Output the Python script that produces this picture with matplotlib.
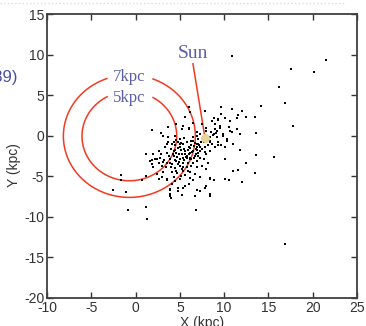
import numpy as np
import matplotlib.pyplot as plt
import matplotlib.lines as mlines

plt.rcParams['axes.unicode_minus'] = False

# star positions (kpc)
x_stars = [6.0, 9.7, 10.9, 12.0, 14.2, 16.9, 17.8, 8.8, 9.3, 10.1, 11.5, 13.5,
           5.3, 3.7, 2.9, 1.8, 6.0, 6.9, 8.0, 9.0, 9.5, 10.5, 10.9, 11.4, 11.8,
           13.6, 8.8, 9.2, 9.9, 10.3,
           3.5, 4.3, 5.0, 5.8, 6.5, 6.9, 7.3, 8.4, 9.3, 10.1, 11.0, 11.8, 13.6,
           15.6, 12.5, 11.0, 11.6, 13.5, 12.0, 10.1, 8.4, 8.0, 8.4, 6.9, 5.6,
           5.2, 3.9, 4.1, 3.5, 2.6, 1.2, 0.7, 1.8, 1.2, 2.0, 2.4, 1.8, 3.1,
           -1.6, -1.7, -2.6, -1.1, -0.9, 1.2, 1.25, 6.8, 4.8, 3.9, 4.0,
           3.7, 4.1, 3.3, 4.5, 4.8, 5.0, 5.4, 5.8, 6.0, 6.3, 6.5, 6.1, 5.6, 5.2,
           4.6, 4.3, 3.9, 3.5, 4.1, 4.6, 5.0, 5.4, 5.8, 6.1, 6.7, 6.9, 7.3, 7.1,
           7.5, 7.8, 8.2, 8.6, 8.4, 8.0, 7.7, 8.2, 9.0, 9.3, 9.7,
           8.0, 7.5, 6.9, 6.3, 5.8, 5.2, 4.6, 4.1, 4.3, 5.0,
           5.6, 6.1, 6.7, 7.3, 6.5, 6.0, 5.4, 4.8, 3.9, 3.5, 3.1, 3.0, 2.8, 2.6,
           2.2, 1.6, 2.0, 2.4, 3.0, 6.5, 6.9, 7.3, 8.8, 9.2, 9.5, 9.0, 8.6, 9.3,
           9.9, 10.3, 10.7, 8.4, 7.8, 8.4, 8.8, 10.5, 6.0, 5.2, 6.5,
           7.5, 4.5, 3.7, 3.1, 4.6, 5.6, 6.1, 7.8, 9.7, 10.7, 11.6, 12.5, 8.4,
           7.7, 7.1, 5.8, 4.8, 5.4, 6.9, 6.3, 4.3, 5.0, 10.1, 7.3,
           6.7, 3.9,
           4.0, 4.4, 4.8, 5.1, 5.5, 5.9, 6.2, 6.6, 6.9, 7.2, 4.2, 4.7, 5.3, 5.6,
           6.0, 6.4, 6.8, 7.0, 4.4, 4.9, 5.5, 5.9, 6.5, 3.8, 3.6, 4.0, 4.5, 5.0,
           5.3, 5.9, 3.4, 3.2, 2.9, 6.3, 6.7, 7.0, 7.4, 7.7, 8.1, 8.4, 8.7, 9.1,
           8.0, 8.5, 5.5, 5.1, 4.6, 6.8, 7.3, 7.8, 5.7, 6.2, 4.9, 6.6, 3.9, 4.7,
           5.1, 6.2, 4.4, 2.7,
           10.9, 17.6, 20.2, 21.5, 16.2, 16.9]
y_stars = [3.6, 3.6, 3.3, 3.1, 3.7, 4.0, 1.2, 2.2, 2.05, 2.2, 2.2, 2.25,
           1.2, 1.1, 0.3, 0.7, 0.8, 0.4, 0.6, 0.8, 1.2, 1.1, 0.4, 0.8, 0.2,
           0.3, 0.2, -0.2, 0.0, -0.6,
           -1.0, -0.8, -1.0, -0.8, -0.6, -1.0, -1.4, -0.8, -1.2, -1.4, -1.0,
           -1.8, -2.4, -2.6, -3.4, -4.4, -4.2, -4.6, -5.7, -5.3, -5.2, -6.2,
           -7.4, -6.7, -6.2, -7.3, -6.7, -5.9, -5.3, -5.3, -5.0, -5.5, -3.5,
           -2.3, -2.2, -2.9, -3.0, -3.2, -4.8, -5.5, -6.7, -6.9, -9.2, -8.8,
           -10.3, -9.2, -6.4, -7.2, -7.7,
           -0.8, -1.0, -1.4, -1.2, -0.8, -1.4, -1.0, -0.8, -1.4, -1.2, -1.9,
           -2.1, -1.9, -2.3, -2.1, -2.5, -2.9, -3.3, -3.5, -3.1, -2.9, -3.3,
           -2.7, -2.9, -2.5, -3.1, -2.7, -2.1, -1.6, -1.4, -1.2, -1.0, -1.9,
           -2.3, -2.9, -3.3, -1.4, -0.8, -1.2,
           -4.1, -3.7, -3.9, -3.7, -3.9, -4.1, -4.3, -4.5, -5.1,
           -5.3, -4.9, -4.5, -4.7, -5.1, -5.5, -6.0, -6.4, -6.8, -6.6, -5.5,
           -4.5, -3.7, -2.7, -1.9, -2.9, -3.1, -3.9, -4.7, -5.1, -0.2, 0.0, 0.2,
           0.2, 0.6, 1.0, 1.4, 1.8, 2.0, 0.2, -0.4, 0.6, -5.3, -6.4,
           -7.2, -5.5, -5.5, 1.0, 0.8, 1.6, 1.4, 0.0, -0.2, 0.0, 1.4, 2.3, 2.9,
           3.1, 2.7, 1.8, 2.5, 2.3, -0.6, -0.8, -1.0, -2.5, -3.5, -3.9, -1.4,
           -2.9, -1.9, -0.4, -2.9, -6.8, -7.4, -7.4,
           -1.6, -1.8, -1.5, -1.8, -1.6, -1.7, -1.5, -1.3, -1.8, -1.2, -2.2,
           -2.6, -2.8, -2.2, -2.3, -2.0, -2.2, -2.5, -3.0, -3.2, -3.0, -3.3,
           -3.4, -2.5, -2.1, -3.8, -4.0, -3.7, -4.4, -4.4, -3.8, -3.0, -2.3,
           -0.6, -0.9, -0.4, -0.8, -0.3, -0.6, -0.2, 0.1, 0.3, 0.9, 0.5, -0.3,
           -0.9, -0.5, -1.6, -1.9, -2.0, -2.6, -2.7, -2.3, -2.8, -3.4, -4.6,
           -5.0, -5.2, -5.6, -3.4,
           9.85, 8.2, 7.8, 9.3, 5.95, -13.3]

sun = (7.84, -0.28)
circle_center = (-0.7, -0.05)
radii_x = [5.35, 7.45]
radii_y = [5.5, 7.55]
gaps = [(60, 118), (69, 110)]   # degrees left open for labels
ring_labels = ['5kpc', '7kpc']
ring_label_y = [4.68, 7.27]

fig = plt.figure(figsize=(3.66, 3.26), dpi=100)
ax = fig.add_axes([0.1284, 0.0859, 0.847, 0.871])

red = '#f23a22'
for rx, ry, (g0, g1) in zip(radii_x, radii_y, gaps):
    t = np.radians(np.linspace(g1, 360 + g0, 400))
    ax.plot(circle_center[0] + rx * np.cos(t), circle_center[1] + ry * np.sin(t),
            color=red, lw=1.1, zorder=2)

for lab, ly in zip(ring_labels, ring_label_y):
    ax.text(circle_center[0], ly, lab, ha='center', va='center',
            family='Liberation Serif', fontsize=12, color='#5a5ea6')

ax.plot(x_stars, y_stars, 's', color='black', markersize=1.8, markeredgewidth=0,
        zorder=3)

ax.plot([6.48, sun[0]], [8.87, sun[1]], color=red, lw=1.1, zorder=2)
ax.plot(sun[0], sun[1], 'o', color='#e8d596', markersize=6.5, markeredgewidth=0,
        zorder=4)
ax.text(6.43, 10.1, 'Sun', ha='center', va='center', family='Liberation Serif',
        fontsize=14, color='#5a5ea6')

ax.set_xlim(-10, 25)
ax.set_ylim(-20, 15)
ax.set_xticks(np.arange(-10, 26, 5))
ax.set_yticks(np.arange(-20, 16, 5))
ax.tick_params(direction='in', top=True, right=True, length=4, width=1,
               color='#333333', labelsize=10, labelcolor='#333333', pad=2)
for lab in ax.get_xticklabels() + ax.get_yticklabels():
    lab.set_family('Liberation Sans')
for s in ax.spines.values():
    s.set_color('#404040')
    s.set_linewidth(1.3)

fig.text(202 / 366, 1 - 323 / 326, 'X (kpc)', ha='center', va='center',
         family='Liberation Sans', fontsize=10, color='#333333')
fig.text(14 / 366, 1 - 165 / 326, 'Y (kpc)', ha='center', va='center',
         rotation=90, family='Liberation Sans', fontsize=10, color='#333333')

# slide remnants at the left edge and top
fig.text(17 / 366, 1 - 78 / 326, '(1989)', ha='right', va='center',
         family='Liberation Sans', fontsize=12, color='#4a50a0')
fig.add_artist(mlines.Line2D([0, 345 / 366], [1 - 3 / 326, 1 - 3 / 326],
                             transform=fig.transFigure, color='#d3dcf3',
                             lw=1, ls=':'))

fig.savefig('out.png', dpi=100)
